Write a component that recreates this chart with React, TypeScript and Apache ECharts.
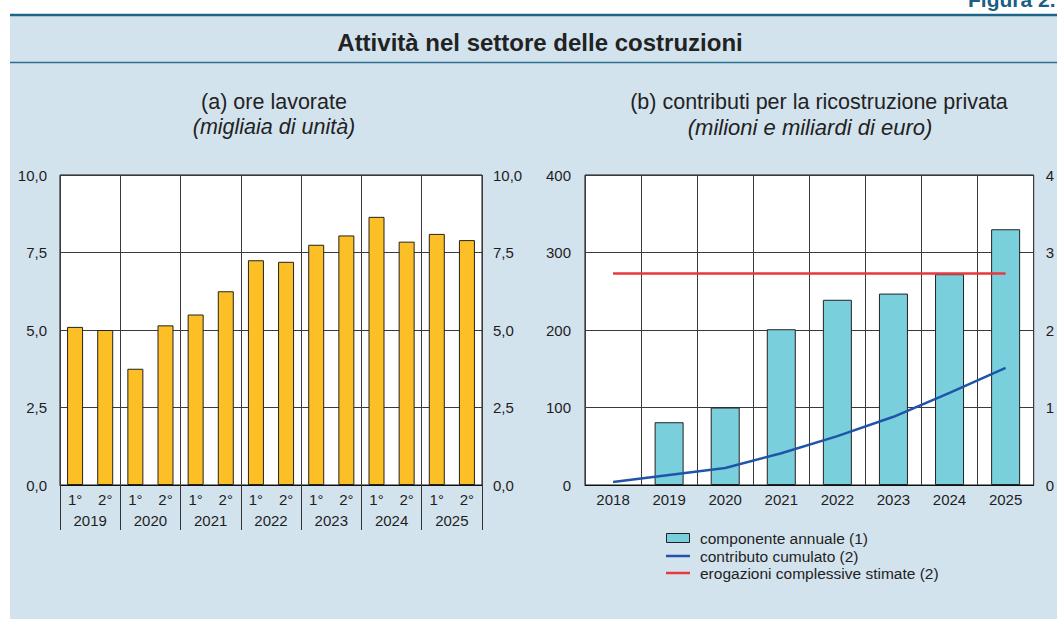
import React, { useEffect, useRef } from "react";
import * as echarts from "echarts";

// ---- data: panel (a) ore lavorate (migliaia di unità)
const years = ["2019", "2020", "2021", "2022", "2023", "2024", "2025"];
const halves = ["1°", "2°"];
const oreLavorate = [5.1, 5.0, 3.75, 5.15, 5.5, 6.25, 7.25, 7.2, 7.75, 8.05, 8.65, 7.85, 8.1, 7.9];
const ticksA = [0, 2.5, 5, 7.5, 10];

// ---- data: panel (b) contributi per la ricostruzione privata
const yearsB = ["2018", "2019", "2020", "2021", "2022", "2023", "2024", "2025"];
const componenteAnnuale = [null, 81, 100, 201, 239, 247, 272, 330]; // milioni
const contributoCumulato = [0.04, 0.13, 0.22, 0.41, 0.63, 0.88, 1.19, 1.51]; // miliardi
const erogazioniStimate = [2.73, 2.73, 2.73, 2.73, 2.73, 2.73, 2.73, 2.73]; // miliardi

const legendNames = [
  "componente annuale (1)",
  "contributo cumulato (2)",
  "erogazioni complessive stimate (2)",
];

const FONT = "'Liberation Sans', Arial, Helvetica, sans-serif";
const TXT = "#1e1e1e";
const GRID = "#3a3a3a";

export default function App() {
  const ref = useRef<HTMLDivElement>(null);

  useEffect(() => {
    if (!ref.current) return;
    const chart = echarts.init(ref.current, undefined, { renderer: "svg" });
    const halfCats = years.flatMap((y) => halves.map((h) => y + " " + h));
    const lbl = { fontFamily: FONT, fontSize: 15, color: TXT };

    chart.setOption({
      animation: false,
      textStyle: { fontFamily: FONT },
      grid: [
        { left: 60, top: 175, width: 422, height: 310, show: true, backgroundColor: "#fff", borderColor: "#111", borderWidth: 1 },
        { left: 585, top: 175, width: 452, height: 310, show: true, backgroundColor: "#fff", borderColor: "#111", borderWidth: 1 },
      ],
      xAxis: [
        {
          type: "category", gridIndex: 0, data: halfCats, position: "bottom",
          axisLine: { show: true, lineStyle: { color: "#111", width: 1 } },
          axisTick: { show: false },
          axisLabel: { ...lbl, interval: 0, margin: 7, formatter: (v: string) => v.split(" ")[1] },
          splitLine: { show: false },
        },
        {
          type: "category", gridIndex: 0, data: years, position: "bottom",
          axisLine: { show: false },
          axisTick: { show: true, interval: 0, length: 45, lineStyle: { color: "#333", width: 1 } },
          axisLabel: { ...lbl, interval: 0, margin: 28 },
          splitLine: { show: true, interval: 0, lineStyle: { color: GRID, width: 1 } },
        },
        {
          type: "category", gridIndex: 1, data: yearsB, position: "bottom",
          axisLine: { show: true, lineStyle: { color: "#111", width: 1 } },
          axisTick: { show: false },
          axisLabel: { ...lbl, interval: 0, margin: 7 },
          splitLine: { show: true, interval: 0, lineStyle: { color: GRID, width: 1 } },
        },
      ],
      yAxis: [
        {
          type: "value", gridIndex: 0, position: "left", min: ticksA[0], max: ticksA[ticksA.length - 1], interval: 2.5,
          axisLine: { show: false }, axisTick: { show: false },
          axisLabel: { ...lbl, margin: 13, formatter: (v: number) => v.toFixed(1).replace(".", ",") },
          splitLine: { show: true, lineStyle: { color: GRID, width: 1 } },
        },
        {
          type: "value", gridIndex: 0, position: "right", min: 0, max: 10, interval: 2.5,
          axisLine: { show: false }, axisTick: { show: false },
          axisLabel: { ...lbl, margin: 11, formatter: (v: number) => v.toFixed(1).replace(".", ",") },
          splitLine: { show: false },
        },
        {
          type: "value", gridIndex: 1, position: "left", min: 0, max: 400, interval: 100,
          axisLine: { show: false }, axisTick: { show: false },
          axisLabel: { ...lbl, margin: 14 },
          splitLine: { show: true, lineStyle: { color: GRID, width: 1 } },
        },
        {
          type: "value", gridIndex: 1, position: "right", min: 0, max: 4, interval: 1,
          axisLine: { show: false }, axisTick: { show: false },
          axisLabel: { ...lbl, margin: 12 },
          splitLine: { show: false },
        },
      ],
      series: [
        {
          name: "ore lavorate", type: "bar", xAxisIndex: 0, yAxisIndex: 0, data: oreLavorate, barWidth: 16,
          itemStyle: { color: "#fcbf26", borderColor: "#222", borderWidth: 1 },
        },
        {
          name: legendNames[0], type: "bar", xAxisIndex: 2, yAxisIndex: 2, data: componenteAnnuale, barWidth: 29,
          itemStyle: { color: "#7acfdc", borderColor: "#222", borderWidth: 1 },
        },
        {
          name: legendNames[1], type: "line", xAxisIndex: 2, yAxisIndex: 3, data: contributoCumulato,
          symbol: "none", smooth: false, lineStyle: { color: "#1f55a8", width: 2.5 }, itemStyle: { color: "#1f55a8" },
        },
        {
          name: legendNames[2], type: "line", xAxisIndex: 2, yAxisIndex: 3, data: erogazioniStimate,
          symbol: "none", lineStyle: { color: "#e8383d", width: 2.5 }, itemStyle: { color: "#e8383d" },
        },
      ],
      graphic: [
        { type: "line", z: 10, shape: { x1: 10, y1: 15, x2: 1057, y2: 15 }, style: { stroke: "#1d6488", lineWidth: 2.5 } },
        { type: "line", z: 10, shape: { x1: 10, y1: 62.5, x2: 1057, y2: 62.5 }, style: { stroke: "#2b6f8f", lineWidth: 1.5 } },
        { type: "text", z: 10, x: 968, y: 10, style: { text: "Figura 2.", font: `bold 21px ${FONT}`, fill: "#1b5f82", textAlign: "left", textVerticalAlign: "bottom" } },
        { type: "text", z: 10, x: 540, y: 42, style: { text: "Attività nel settore delle costruzioni", font: `bold 24px ${FONT}`, fill: "#222", textAlign: "center", textVerticalAlign: "middle" } },
        { type: "text", z: 10, x: 274, y: 102, style: { text: "(a) ore lavorate", font: `21.5px ${FONT}`, fill: "#222", textAlign: "center", textVerticalAlign: "middle" } },
        { type: "text", z: 10, x: 274, y: 127, style: { text: "(migliaia di unità)", font: `italic 21.5px ${FONT}`, fill: "#222", textAlign: "center", textVerticalAlign: "middle" } },
        { type: "text", z: 10, x: 819, y: 102, style: { text: "(b) contributi per la ricostruzione privata", font: `21.5px ${FONT}`, fill: "#222", textAlign: "center", textVerticalAlign: "middle" } },
        { type: "text", z: 10, x: 810, y: 127, style: { text: "(milioni e miliardi di euro)", font: `italic 22px ${FONT}`, fill: "#222", textAlign: "center", textVerticalAlign: "middle" } },
        // legend
        { type: "rect", z: 10, shape: { x: 666.5, y: 533.5, width: 23, height: 9 }, style: { fill: "#7acfdc", stroke: "#222", lineWidth: 1 } },
        { type: "line", z: 10, shape: { x1: 666, y1: 556, x2: 690, y2: 556 }, style: { stroke: "#1f55a8", lineWidth: 2.5 } },
        { type: "line", z: 10, shape: { x1: 666, y1: 573, x2: 690, y2: 573 }, style: { stroke: "#e8383d", lineWidth: 2.5 } },
        { type: "text", z: 10, x: 700, y: 538.5, style: { text: legendNames[0], font: `15.5px ${FONT}`, fill: TXT, textAlign: "left", textVerticalAlign: "middle" } },
        { type: "text", z: 10, x: 700, y: 556, style: { text: legendNames[1], font: `15.5px ${FONT}`, fill: TXT, textAlign: "left", textVerticalAlign: "middle" } },
        { type: "text", z: 10, x: 700, y: 573.5, style: { text: legendNames[2], font: `15.5px ${FONT}`, fill: TXT, textAlign: "left", textVerticalAlign: "middle" } },
      ],
    });
    return () => chart.dispose();
  }, []);

  return (
    <div style={{ position: "fixed", left: 0, top: 0, width: 1057, height: 619, background: "#fff", overflow: "hidden" }}>
      <div style={{ position: "absolute", left: 10, top: 15, width: 1047, height: 604, background: "#d3e3ee" }} />
      <div ref={ref} style={{ position: "absolute", left: 0, top: 0, width: 1057, height: 619 }} />
    </div>
  );
}
